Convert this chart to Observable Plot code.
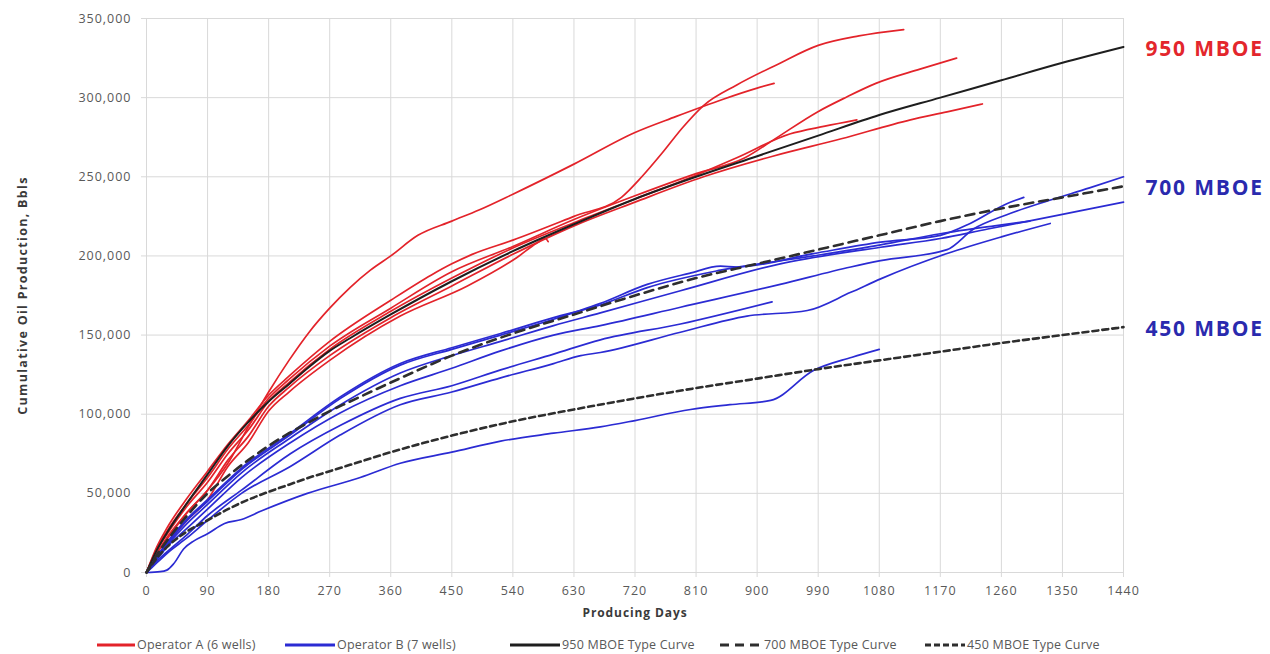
<!DOCTYPE html>
<html><head><meta charset="utf-8">
<script src="https://cdn.jsdelivr.net/npm/d3@7"></script>
<script src="https://cdn.jsdelivr.net/npm/@observablehq/plot@0.6"></script>
<style>
body{margin:0;background:#fff;}
#wrap{position:relative;width:1270px;height:654px;overflow:hidden;font-family:"Open Sans",sans-serif;}
.legend{position:absolute;top:636px;left:0;width:1270px;height:18px;}
.item{position:absolute;top:0;display:flex;align-items:center;font-size:12.5px;color:#595959;white-space:nowrap;letter-spacing:0.2px;}
.item svg{margin-right:2px}
</style></head><body><div id="wrap"></div>
<script>
// ---- axis ticks ----
const xTicks = [0,90,180,270,360,450,540,630,720,810,900,990,1080,1170,1260,1350,1440];
const yTicks = [0,50000,100000,150000,200000,250000,300000,350000];

// ---- type curves ----
const typeDays = [0,15,30,60,90,120,150,180,210,240,270,300,360,450,540,630,720,810,900,990,1080,1170,1260,1350,1440];
const T950 = [0,14000,25000,44000,62000,80000,95000,108000,119000,130000,140000,148000,163000,184000,203000,220000,236000,250000,263000,276000,289000,300000,311000,322000,332000];
const T700 = [0,11000,20000,36000,50000,61000,71000,80000,88000,95000,102000,108000,120000,137000,151000,163000,175000,186000,195000,204000,213000,222000,230000,237000,244000];
const T450 = [0,9000,16000,26000,33000,40000,46000,51000,55500,60000,64000,68000,76000,86500,95500,103000,110000,116500,122500,128500,134000,139500,145000,150000,155000];

// ---- Operator A wells [day, cumulative bbl] ----
const A1 = [[0,0],[15,12000],[30,22000],[60,38000],[90,52000],[120,69000],[150,92000],[180,114000],[210,134000],[240,152000],[270,167000],[300,180000],[330,191000],[360,200000],[400,213000],[450,222000],[490,229000],[540,239000],[630,258000],[720,278000],[780,288000],[850,299000],[900,306000],[925,309000]];
const A2 = [[0,0],[15,16000],[30,28000],[60,47000],[90,64000],[120,81000],[150,96000],[180,112000],[210,124000],[270,146000],[360,172000],[420,188000],[450,195000],[480,201000],[540,210000],[630,225000],[700,237000],[730,250000],[760,265000],[790,281000],[821,295000],[870,308000],[930,321000],[990,333000],[1050,339000],[1116,343000]];
const A3 = [[0,0],[15,15000],[30,26000],[60,44000],[90,60000],[120,78000],[150,93000],[180,110000],[210,122000],[270,143000],[360,167000],[450,190000],[540,206000],[630,223000],[720,238000],[810,252000],[882,262000],[923,273000],[989,291000],[1030,300000],[1075,309000],[1140,318000],[1194,325000]];
const A4 = [[0,0],[15,12000],[30,21000],[60,38000],[90,52000],[120,71000],[150,86000],[180,105000],[210,117000],[270,137000],[360,161000],[450,181000],[540,201000],[630,219000],[720,234000],[821,250000],[923,263000],[1024,274000],[1126,286000],[1180,291000],[1232,296000]];
const A5 = [[0,0],[15,14000],[30,24000],[60,42000],[90,57000],[120,75000],[150,90000],[180,108000],[210,120000],[270,141000],[360,165000],[450,186000],[540,205000],[630,221000],[720,236000],[810,251000],[870,262000],[948,277000],[1000,282000],[1047,286000]];
const A6 = [[0,0],[15,10000],[30,18000],[60,33000],[90,46000],[120,67000],[150,82000],[180,102000],[210,114000],[270,134000],[374,162000],[473,181000],[546,199000],[575,208000],[588,211000],[592,209000]];

// ---- Operator B wells ----
const B1 = [[0,0],[15,8000],[30,16000],[60,28000],[90,40000],[140,60000],[212,82000],[286,101000],[374,118000],[450,129000],[522,140000],[600,150000],[669,156000],[787,167600],[934,182000],[1038,193000],[1082,197000],[1180,204000],[1219,217000],[1268,226000],[1330,235000],[1390,243000],[1440,250000]];
const B2 = [[0,0],[15,9000],[30,17000],[60,31000],[90,43000],[140,63000],[212,85000],[286,106000],[374,126000],[450,137000],[522,146000],[600,156000],[669,164000],[787,178000],[934,195000],[1082,205500],[1170,211000],[1240,217000],[1300,222000],[1370,228000],[1440,234000]];
const B3 = [[0,0],[15,10000],[30,18000],[60,33000],[90,45000],[140,65000],[212,87000],[286,110000],[374,131000],[450,141000],[522,150000],[600,160000],[669,170000],[738,182000],[800,189000],[846,193500],[870,193000],[983,201500],[1082,208700],[1170,213000],[1214,220500],[1268,233000],[1293,237000]];
const B4 = [[0,0],[15,10000],[30,19000],[60,34000],[90,46000],[140,66000],[212,88000],[286,111000],[374,132000],[450,142000],[522,151000],[600,161000],[669,169000],[738,180000],[846,191000],[983,200000],[1082,207000],[1170,214000],[1250,219000],[1302,222000]];
const B5 = [[0,0],[15,6000],[30,12000],[60,22000],[90,33000],[140,50000],[212,67000],[286,87000],[374,106000],[450,114000],[522,123000],[600,132000],[640,137000],[669,139000],[787,151800],[885,162000],[974,165500],[1038,177000],[1082,185500],[1180,201500],[1260,212000],[1332,220500]];
const B6 = [[0,0],[15,7000],[30,13000],[60,24000],[90,36000],[140,52000],[212,75000],[286,93000],[374,110000],[450,118000],[522,128000],[600,138000],[669,147000],[787,157000],[922,171000]];
const B7 = [[0,0],[20,500],[30,1500],[40,5500],[55,15000],[70,20000],[90,24500],[115,31000],[140,33500],[170,39000],[237,50000],[315,60000],[374,69000],[450,76000],[522,83000],[600,88000],[669,92000],[720,96000],[802,103000],[860,106000],[920,108700],[983,127600],[1040,136000],[1080,141000]];

const curveLabels = ["950 MBOE","700 MBOE","450 MBOE"];
const legendLabels = ["Operator A (6 wells)","Operator B (7 wells)","950 MBOE Type Curve","700 MBOE Type Curve","450 MBOE Type Curve"];

const RED = "#e3232a", BLUE = "#2b2bd3", NAVY = "#2a2aae", LBL_RED = "#e3262c";

// build tables
const rows = [];
[A1,A2,A3,A4,A5,A6].forEach((w,i)=>w.forEach(([day,value])=>rows.push({well:"A"+i, op:"A", day, value})));
[B1,B2,B3,B4,B5,B6,B7].forEach((w,i)=>w.forEach(([day,value])=>rows.push({well:"B"+i, op:"B", day, value})));
const redRows = rows.filter(d=>d.op==="A"), blueRows = rows.filter(d=>d.op==="B");
const tc = (arr)=>typeDays.map((day,i)=>({day, value:arr[i]}));
const lastDay = typeDays[typeDays.length-1];
const labelRows = [
  {label:curveLabels[0], day:lastDay, value:T950[T950.length-1], color:LBL_RED},
  {label:curveLabels[1], day:lastDay, value:T700[T700.length-1], color:NAVY},
  {label:curveLabels[2], day:lastDay, value:T450[T450.length-1], color:NAVY}
];

const plot = Plot.plot({
  width:1270, height:626,
  marginLeft:146, marginRight:147, marginTop:18, marginBottom:54,
  style:{fontFamily:"'Open Sans', sans-serif", fontSize:"12.5px", color:"#595959", background:"#fff", overflow:"visible"},
  x:{domain:[0,1440]},
  y:{domain:[0,350000]},
  marks:[
    Plot.gridX(xTicks,{stroke:"#d9d9d9", strokeOpacity:1, strokeWidth:1}),
    Plot.gridY(yTicks,{stroke:"#d9d9d9", strokeOpacity:1, strokeWidth:1}),
    Plot.axisX({ticks:xTicks, tickSize:5, tickPadding:9, stroke:"#d9d9d9", tickFormat:d=>String(d),
      label:"Producing Days", labelAnchor:"center", labelArrow:"none", labelOffset:44}),
    Plot.axisY({ticks:yTicks, tickSize:5, tickPadding:10, stroke:"#d9d9d9", tickFormat:d3.format(","),
      label:"Cumulative Oil Production, Bbls", labelAnchor:"center", labelArrow:"none", labelOffset:128}),
    Plot.line(redRows,{x:"day", y:"value", z:"well", stroke:RED, strokeWidth:1.7, curve:"monotone-x"}),
    Plot.line(blueRows,{x:"day", y:"value", z:"well", stroke:BLUE, strokeWidth:1.7, curve:"monotone-x"}),
    Plot.line(tc(T950),{x:"day", y:"value", stroke:"#1e1e1e", strokeWidth:2, curve:"monotone-x"}),
    Plot.line(tc(T700),{x:"day", y:"value", stroke:"#2e2e2e", strokeWidth:2.6, strokeDasharray:"9,6", curve:"monotone-x"}),
    Plot.line(tc(T450),{x:"day", y:"value", stroke:"#2e2e2e", strokeWidth:2.6, strokeDasharray:"6,4", curve:"monotone-x"}),
    Plot.text(labelRows,{x:"day", y:"value", text:"label", fill:"color", dx:22, dy:2, textAnchor:"start",
      fontSize:21, fontWeight:"bold"})
  ]
});

const svg = d3.select(plot);
svg.selectAll('[aria-label="x-axis tick label"] text, [aria-label="y-axis tick label"] text').style("letter-spacing","1px");
svg.selectAll('[aria-label="x-axis label"] text, [aria-label="x-axis label"]')
  .style("font-weight","bold").style("fill","#3a3a3a").style("font-size","12px").style("letter-spacing","0.9px");
svg.selectAll('[aria-label="y-axis label"] text, [aria-label="y-axis label"]')
  .style("font-weight","bold").style("fill","#3a3a3a").style("font-size","12.5px").style("letter-spacing","1.3px");
svg.selectAll('[aria-label="text"] text').style("letter-spacing","1.8px");

const wrap = document.getElementById("wrap");
wrap.appendChild(plot);

// legend
const legend = document.createElement("div");
legend.className = "legend";
const lefts = [97,285,510,720,925];
const widths = [38,50,50,42,40];
const styles = [
  {stroke:RED, dash:null, w:3},
  {stroke:BLUE, dash:null, w:3},
  {stroke:"#1e1e1e", dash:null, w:3},
  {stroke:"#2e2e2e", dash:"9,6", w:3},
  {stroke:"#2e2e2e", dash:"6,3", w:3}
];
legendLabels.forEach((lab,i)=>{
  const it = document.createElement("div");
  it.className = "item";
  it.style.left = lefts[i]+"px";
  const s = styles[i];
  it.innerHTML = `<svg width="${widths[i]}" height="14"><line x1="0" x2="${widths[i]}" y1="7" y2="7" stroke="${s.stroke}" stroke-width="${s.w}" ${s.dash?`stroke-dasharray="${s.dash}"`:""}/></svg><span>${lab}</span>`;
  legend.appendChild(it);
});
wrap.appendChild(legend);
</script></body></html>
